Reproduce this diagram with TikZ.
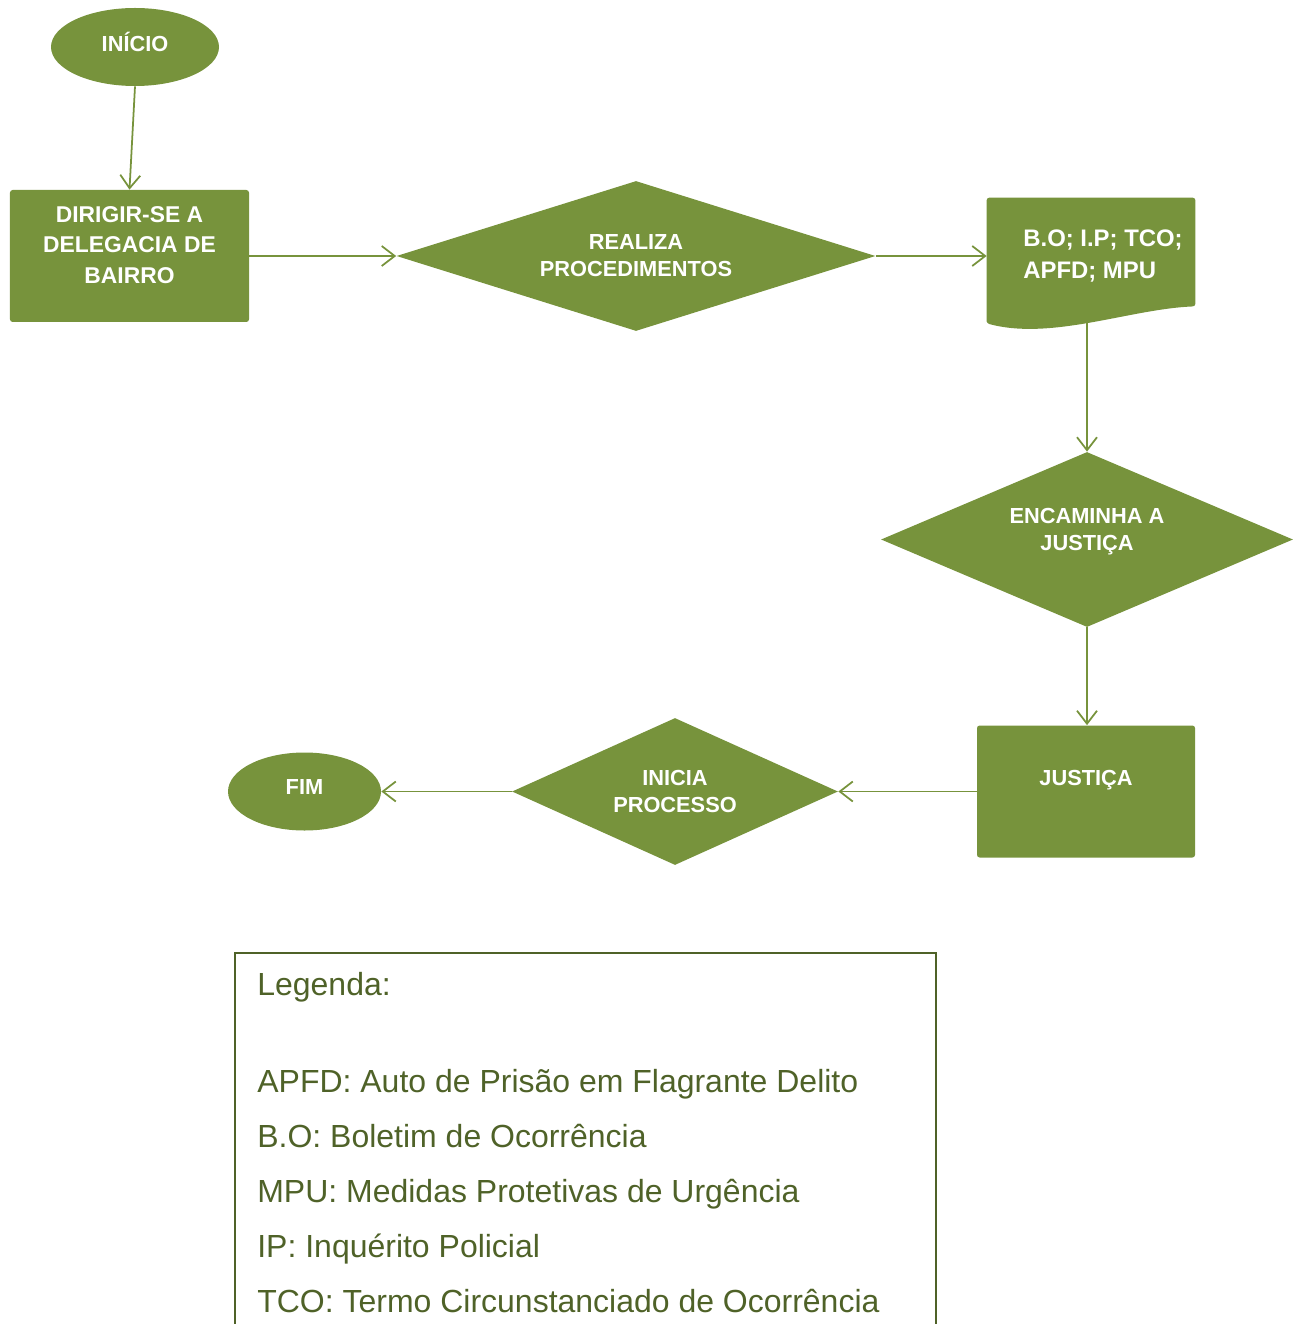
\documentclass[tikz,border=0pt]{standalone}
\usepackage{fontspec}
\setmainfont{Liberation Sans}
\usetikzlibrary{arrows.meta, positioning, shapes.geometric, backgrounds}
\definecolor{folha}{HTML}{77933C}
\definecolor{musgo}{HTML}{4F6228}
\tikzset{%
	etapa/.style={
		rectangle,
		rounded corners=1.5pt,
		fill=folha,
		text=white,
		align=center,
		inner sep=0pt,
		font=\bfseries\fontsize{13}{17.6}\selectfont
	},
	decisao/.style={
		diamond,
		fill=folha,
		text=white,
		align=center,
		inner sep=0pt,
		font=\bfseries\fontsize{12.4}{15.3}\selectfont
	},
	terminal/.style={
		ellipse,
		fill=folha,
		text=white,
		inner sep=0pt,
		font=\bfseries\fontsize{12.4}{15}\selectfont
	},
	seta/.style={
		draw=folha,
		line width=1pt,
		-{Straight Barb[length=0.26cm, width=0.4cm]}
	},
}

\begin{document}
\begin{tikzpicture}
			\useasboundingbox (0,0) rectangle (26.04,-26.48);

			% Start and first step
			\node[terminal, minimum width=3.36cm, minimum height=1.56cm] (inicio) at (2.70,-0.94)
				{INÍCIO\rule[-0.22cm]{0pt}{0pt}};
			\node[etapa, minimum width=4.78cm, minimum height=2.64cm] (dirigir) at (2.59,-5.12)
				{DIRIGIR-SE A\\DELEGACIA DE\\BAIRRO\rule[-0.44cm]{0pt}{0pt}};

			% Procedures
			\node[decisao, aspect=3.19, minimum width=9.58cm, minimum height=3.0cm] (realiza) at (12.72,-5.12)
				{REALIZA\\PROCEDIMENTOS};

			% Document shape
			\node[etapa, fill=none, align=left, minimum width=4.16cm, minimum height=2.32cm,
				font=\bfseries\fontsize{13.6}{18.1}\selectfont] (doc) at (21.82,-5.12)
				{\hspace*{0.48cm}B.O; I.P; TCO;\\\hspace*{0.48cm}APFD; MPU};
			\begin{scope}[on background layer]
				\fill[folha, rounded corners=1.5pt] ([yshift=-0.18cm]doc.south west) -- (doc.north west)
					-- (doc.north east) -- ([yshift=0.16cm]doc.south east)
					.. controls +(-1.3,-0.05) and +(1.3,-0.35) .. ([yshift=-0.18cm]doc.south west) -- cycle;
			\end{scope}

			% Justice
			\node[decisao, aspect=2.35, minimum width=8.24cm, minimum height=3.5cm] (encaminha) at (21.74,-10.79)
				{ENCAMINHA A\\JUSTIÇA\rule[-0.4cm]{0pt}{0pt}};
			\node[etapa, minimum width=4.36cm, minimum height=2.64cm,
				font=\bfseries\fontsize{12.4}{15}\selectfont] (justica) at (21.72,-15.83)
				{JUSTIÇA\rule[-0.56cm]{0pt}{0pt}};

			% Process and end
			\node[decisao, aspect=2.22, minimum width=6.52cm, minimum height=2.94cm] (inicia) at (13.50,-15.83)
				{INICIA\\PROCESSO};
			\node[terminal, minimum width=3.06cm, minimum height=1.56cm] (fim) at (6.09,-15.83)
				{FIM\rule[-0.2cm]{0pt}{0pt}};

			% Draw the arrows
			\draw[seta] (inicio.south) -- (dirigir.north);
			\draw[seta] (dirigir.east) -- (realiza.west);
			\draw[seta] (realiza.east) -- (doc.west);
			\draw[seta] (doc.south -| encaminha.north) -- (encaminha.north);
			\draw[seta] (encaminha.south) -- (justica.north -| encaminha.south);
			\draw[seta] (justica.west) -- (inicia.east);
			\draw[seta] (inicia.west) -- (fim.east);

			% Legend
			\draw[musgo, line width=0.8pt] (4.70,-26.6) |- (18.72,-19.06) -- (18.72,-26.6);
			\node[anchor=north west, inner sep=0pt, align=left, text=musgo,
				font=\fontsize{18.2}{31.3}\selectfont] (legenda) at (5.14,-19.44)
				{Legenda:\\[24pt]
				APFD: Auto de Prisão em Flagrante Delito\\
				B.O: Boletim de Ocorrência\\
				MPU: Medidas Protetivas de Urgência\\
				IP: Inquérito Policial\\
				TCO: Termo Circunstanciado de Ocorrência};

		\end{tikzpicture}
\end{document}
